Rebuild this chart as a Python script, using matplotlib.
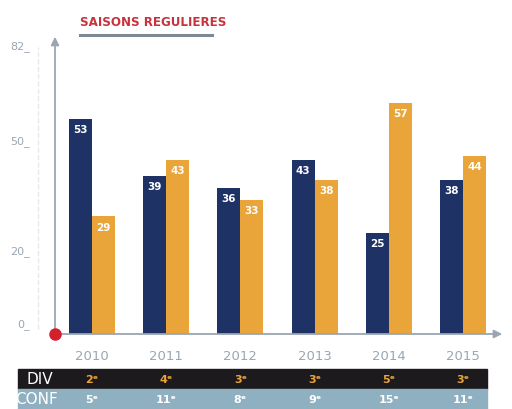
import matplotlib
matplotlib.use("Agg")
import matplotlib.pyplot as plt
from matplotlib.patches import Rectangle
from matplotlib.transforms import blended_transform_factory

years = ['2010', '2011', '2012', '2013', '2014', '2015']
blue_vals = [53, 39, 36, 43, 25, 38]
orange_vals = [29, 43, 33, 38, 57, 44]
div_rank = ['2ᵉ', '4ᵉ', '3ᵉ', '3ᵉ', '5ᵉ', '3ᵉ']
conf_rank = ['5ᵉ', '11ᵉ', '8ᵉ', '9ᵉ', '15ᵉ', '11ᵉ']
ytick_pos = [3, 21, 48, 71.6]
ytick_labels = ['0_', '20_', '50_', '82_']

BLUE = '#1f3266'
ORANGE = '#e9a43a'
RED = '#c8323c'
GREY = '#9aa6b2'
plt.rcParams['font.family'] = ['DejaVu Sans']

W, H = 512, 410


def fx(px):
    return px / W


def fy(py):
    return 1 - py / H


def main():
    fig = plt.figure(figsize=(5.12, 4.10), dpi=100)
    fig.patch.set_facecolor('white')

    ax = fig.add_axes([fx(55), fy(335), fx(505 - 55), (335 - 35) / H])
    ax.set_facecolor('none')
    ax.set_zorder(2)
    ax.set_xlim(-0.499, 5.566)
    ax.set_ylim(0, 74)

    x = list(range(len(years)))
    w = 0.31
    xb = [i - w / 2 for i in x]
    xo = [i + w / 2 for i in x]
    ax.bar(xb, blue_vals, w, color=BLUE, zorder=2)
    ax.bar(xo, orange_vals, w, color=ORANGE, zorder=2)
    for xi, v in zip(xb, blue_vals):
        ax.text(xi, v - 1.3, str(v), ha='center', va='top', color='white',
                fontsize=7.5, fontweight='bold', zorder=3)
    for xi, v in zip(xo, orange_vals):
        ax.text(xi, v - 1.3, str(v), ha='center', va='top', color='white',
                fontsize=7.5, fontweight='bold', zorder=3)

    for s in ['top', 'right', 'left', 'bottom']:
        ax.spines[s].set_visible(False)
    ax.set_xticks([])
    ax.set_yticks(ytick_pos)
    ax.set_yticklabels(ytick_labels, color=GREY, fontsize=8)
    ax.tick_params(axis='y', length=0, pad=18)

    # axis arrows
    ax.annotate('', xy=(0, 1.0), xytext=(0, 0), xycoords='axes fraction',
                arrowprops=dict(arrowstyle='-|>', color=GREY, lw=1.3,
                                mutation_scale=12))
    ax.annotate('', xy=(1.0, 0), xytext=(-0.01, 0), xycoords='axes fraction',
                arrowprops=dict(arrowstyle='-|>', color=GREY, lw=1.3,
                                mutation_scale=12))
    ax.plot([0], [0], 'o', color='#d4202c', markersize=8, transform=ax.transAxes,
            clip_on=False, zorder=5)
    # faint guide line
    fig.add_artist(plt.Line2D([fx(38), fx(38)], [fy(330), fy(48)],
                              color='#e6eaee', lw=1, ls='--'))

    # title
    fig.text(fx(80), fy(22), 'SAISONS REGULIERES', color=RED, fontsize=8.6,
             fontweight='bold', ha='left', va='center')
    fig.add_artist(plt.Line2D([fx(80), fx(212)], [fy(36), fy(36)],
                              color='#7d8a96', lw=2.2))

    # years and ranking table
    tr = blended_transform_factory(ax.transData, fig.transFigure)
    for xi, yr in zip(x, years):
        ax.text(xi, fy(357), yr, transform=tr, ha='center', va='center',
                color=GREY, fontsize=9.5, clip_on=False)

    fig.patches.append(Rectangle((fx(18), fy(390)), fx(487 - 18), 20 / H,
                                 transform=fig.transFigure, color='#1c1a1c',
                                 zorder=-1))
    fig.patches.append(Rectangle((fx(18), fy(410)), fx(487 - 18), 20 / H,
                                 transform=fig.transFigure, color='#8fb0c0',
                                 zorder=-1))
    fig.text(fx(40), fy(380), 'DIV', color='white', fontsize=11,
             ha='center', va='center')
    fig.text(fx(36), fy(400), 'CONF', color='white', fontsize=11,
             ha='center', va='center')
    for xi, d, c in zip(x, div_rank, conf_rank):
        ax.text(xi, fy(380), d, transform=tr, ha='center', va='center',
                color=ORANGE, fontsize=8, fontweight='bold', clip_on=False)
        ax.text(xi, fy(400), c, transform=tr, ha='center', va='center',
                color='white', fontsize=8, fontweight='bold', clip_on=False)

    fig.savefig('out.png', dpi=100)


if __name__ == "__main__":
    main()
